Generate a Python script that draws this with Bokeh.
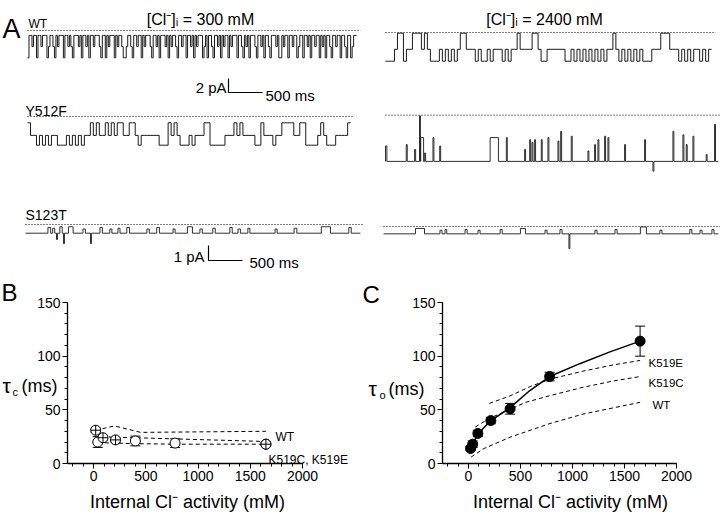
from bokeh.plotting import figure
from bokeh.models import (Range1d, Label, Whisker, TeeHead, ColumnDataSource,
                          SingleIntervalTicker, LinearAxis)
from bokeh.embed import file_html
from bokeh.resources import INLINE

FONT = "Liberation Sans"

# ------------------------------------------------------------------ data
# Panel A: single-channel traces (time in ms, current in pA)
BIN_MS = 44
WT300_BIN_MS = 22
wt300_states = "".join([
    "20010020", "01000210", "01201000", "20010120", "00102001", "02001000", "12002010",
    "00201001", "22100120", "01002010", "00120010", "20001020", "10012001", "00200102",
    "01000210", "20012001", "02010020", "10002001", "20102000", "12001020", "01200010",
    "22010020", "01002100", "20010200", "10020102", "00120010", "02001200", "2100",
])
wt300_levels = [-0.7, -2.3, -3.9]

wt2400_states = "".join([
    "222", "1", "00", "2", "11", "000", "1", "01", "222", "121", "2121", "00", "11",
    "121", "2212", "111", "2121", "101", "111", "00", "1221", "111112",
    "2121212121212", "1101", "21212121", "222", "111", "000", "111", "21212112121",
])
wt2400_levels = [-0.1, -2.4, -4.1]

y512f300_states = "".join([
    "01", "12121211", "2221", "212121", "1010110", "101", "0011", "00", "121",
    "11111", "222", "0101", "22212", "111", "00", "22222", "111", "010", "1111",
    "22", "01", "11211", "0000", "11", "00", "2222", "101", "222", "11110",
])
y512f300_levels = [-0.9, -2.7, -4.1]

y512f2400_base = -6.6
y512f2400_dur = 4895
y512f2400_start = [0, 305, 428, 500, 518, 576, 698, 797, 1539, 1777, 2046, 2120, 2154,
                   2193, 2291, 2389, 2536, 2576, 2732, 2977, 3075, 3124, 3222, 3271,
                   3516, 3810, 3933, 4227, 4374, 4423, 4521, 4716, 4839]
y512f2400_end = [20, 320, 443, 514, 560, 590, 712, 811, 1661, 1791, 2060, 2134, 2168,
                 2207, 2305, 2403, 2550, 2590, 2746, 2991, 3089, 3138, 3236, 3285,
                 3530, 3824, 3947, 4241, 4388, 4437, 4535, 4730, 4853]
y512f2400_level = [-4.4, -4.2, -4.9, -0.1, -3.2, -5.4, -3.2, -4.4, -3.2, -3.2, -4.9, -3.5,
                   -3.9, -3.5, -3.5, -3.2, -3.7, -2.3, -3.0, -5.1, -4.2, -3.5, -3.0, -3.2,
                   -4.2, -3.5, -8.0, -2.3, -2.8, -4.2, -3.0, -5.6, -1.3]

s123t300_base = -0.58
s123t300_dur = 4925
s123t300_start = [330, 400, 456, 505, 559, 632, 845, 956, 1095, 1240, 1360, 1490, 1785,
                  1930, 2170, 2381, 2565, 2755, 3005, 3125, 3270, 3670, 3950, 4350, 4755]
s123t300_end = [370, 430, 470, 540, 573, 700, 880, 970, 1130, 1270, 1390, 1530, 1820,
                1970, 2200, 2455, 2600, 2790, 3040, 3160, 3300, 3700, 3990, 4485, 4790]
s123t300_level = [-0.2, -0.25, -1.0, -0.15, -1.27, -0.15, -0.3, -1.27, -0.2, -0.3, -0.25,
                  -0.2, -0.3, -0.2, -0.3, -0.15, -0.3, -0.25, -0.2, -0.3, -0.25, -0.3,
                  -0.25, -0.15, -0.2]

s123t2400_base = -0.49
s123t2400_dur = 4925
s123t2400_start = [470, 830, 905, 1200, 1390, 1715, 2014, 2375, 2595, 2727, 3110, 3405,
                   3778, 4065, 4505, 4655, 4830]
s123t2400_end = [603, 860, 930, 1230, 1420, 1745, 2087, 2405, 2625, 2741, 3140, 3435,
                 3866, 4095, 4535, 4685, 4860]
s123t2400_level = [-0.13, -0.25, -0.2, -0.2, -0.25, -0.2, -0.13, -0.25, -0.2, -1.47, -0.25,
                   -0.2, -0.03, -0.25, -0.2, -0.25, -0.2]

scale_big = (500, 2)     # ms, pA
scale_small = (500, 1)   # ms, pA

# Panel B: tau_c vs internal Cl- activity (mM, ms)
b_e_x = [20, 90, 210, 1650]
b_e_y = [31, 24, 22, 18]
b_e_err = [2, 2, 2, 2]
b_c_x = [40, 400, 780, 1650]
b_c_y = [20, 21, 19, 18]
b_c_err = [5, 4.5, 4, 1.5]
b_wt_x = [20, 200, 450, 1650]
b_wt_y = [31, 35, 29, 30]
b_fit1_x = [80, 210, 1650]
b_fit1_y = [25, 24.5, 20.5]
b_fit2_x = [40, 200, 400, 780, 1650]
b_fit2_y = [19.5, 19, 18.5, 18, 18]

# Panel C: tau_o vs internal Cl- activity (mM, ms)
c_x = [20, 40, 90, 215, 400, 780, 1650]
c_y = [14, 18, 28, 40, 51, 81, 114]
c_err = [2, 3, 3, 3, 5, 4, 14]
c_fit_x = [15, 40, 90, 215, 400, 590, 780, 1070, 1360, 1650]
c_fit_y = [12, 18, 27.5, 40, 52, 68, 81, 93, 104, 114]
c_e_x = [200, 400, 600, 800, 1100, 1400, 1650]
c_e_y = [56, 63, 72, 79, 86, 92, 96]
c_c_x = [65, 200, 365, 550, 775, 1100, 1400, 1650]
c_c_y = [34, 42, 49, 57, 63, 71, 77, 81]
c_wt_x = [25, 150, 400, 775, 1100, 1400, 1650]
c_wt_y = [6, 14, 24.5, 37, 46, 52, 57]


# ------------------------------------------------------------------ canvas (picture pixel coords)
X0, X1, Y0, Y1 = 0, 720, 0, 512
p = figure(width=X1 - X0, height=Y1 - Y0, x_range=Range1d(X0, X1), y_range=Range1d(Y1, Y0),
           x_axis_type=None, y_axis_type=None, min_border=0, outline_line_color=None,
           toolbar_location=None, output_backend="svg")


def label(text, x, y, size, align="left"):
    p.add_layout(Label(x=x, y=y, text=text, text_font=FONT, text_font_size=size,
                       text_align=align, text_baseline="alphabetic", text_color="black"))


def step_xy(states, levels, bin_ms):
    ys = [levels[int(ch)] for ch in states]
    xs = [k * bin_ms for k in range(len(ys) + 1)]
    return xs, ys + [ys[-1]]


def event_xy(base, starts, ends, lvls, dur):
    xs, ys = [0], [base]
    for s, e, l in zip(starts, ends, lvls):
        xs += [s, s, e, e]
        ys += [base, l, l, base]
    xs.append(dur)
    ys.append(base)
    return xs, ys


# ------------------------------------------------------------------ panel A
MS_PER_PX = 500 / 34.0
trace_layout = {  # name: (x of t=0, y of 0 pA, px per pA)
    "wt300": (27, 30, 7.0), "y512f300": (27, 116, 7.0), "s123t300": (25, 224, 15.0),
    "wt2400": (385, 32, 7.0), "y512f2400": (385, 114.7, 7.0), "s123t2400": (383, 226, 15.0),
}
for nm, (xo, yo, k) in trace_layout.items():
    p.extra_x_ranges[nm] = Range1d((X0 - xo) * MS_PER_PX, (X1 - xo) * MS_PER_PX)
    p.extra_y_ranges[nm] = Range1d((yo - Y1) / k, (yo - Y0) / k)

step_traces = {
    "wt300": step_xy(wt300_states, wt300_levels, WT300_BIN_MS),
    "y512f300": step_xy(y512f300_states, y512f300_levels, BIN_MS),
    "wt2400": step_xy(wt2400_states, wt2400_levels, BIN_MS),
}
event_traces = {
    "y512f2400": event_xy(y512f2400_base, y512f2400_start, y512f2400_end, y512f2400_level, y512f2400_dur),
    "s123t300": event_xy(s123t300_base, s123t300_start, s123t300_end, s123t300_level, s123t300_dur),
    "s123t2400": event_xy(s123t2400_base, s123t2400_start, s123t2400_end, s123t2400_level, s123t2400_dur),
}
for nm, (xs, ys) in {**step_traces, **event_traces}.items():
    p.line([0, xs[-1] + 60], [0, 0], line_color="black", line_width=1, line_dash="1 2",
           x_range_name=nm, y_range_name=nm)
for nm, (xs, ys) in step_traces.items():
    p.step(xs, ys, mode="after", line_color="#1a1a1a", line_width=1,
           x_range_name=nm, y_range_name=nm)
for nm, (xs, ys) in event_traces.items():
    p.line(xs, ys, line_color="#1a1a1a", line_width=0.9, x_range_name=nm, y_range_name=nm)

# scale bars
t_a, i_a = (228 - 27) * MS_PER_PX, (30 - 92) / 7.0
p.line([t_a, t_a, t_a + scale_big[0]], [i_a + scale_big[1], i_a, i_a],
       line_color="black", line_width=1.2, x_range_name="wt300", y_range_name="wt300")
t_b, i_b = (208 - 25) * MS_PER_PX, (224 - 260) / 15.0
p.line([t_b, t_b, t_b + scale_small[0]], [i_b + scale_small[1], i_b, i_b],
       line_color="black", line_width=1.2, x_range_name="s123t300", y_range_name="s123t300")

label("A", 2, 28, "27px")
label("WT", 28, 23, "12px")
label("[Cl\u207b]\u1d62 = 300 mM", 200, 19, "16px", align="center")
label("[Cl\u207b]\u1d62 = 2400 mM", 544, 19, "16px", align="center")
label("2 pA", 226, 87, "15px", align="right")
label("500 ms", 265, 95, "15px")
label("Y512F", 25, 110, "14px")
label("S123T", 25, 214, "14px")
label("1 pA", 204, 256, "15px", align="right")
label("500 ms", 249, 262, "15px")

# ------------------------------------------------------------------ panels B, C
PX_PER_MS_Y = 1.0733
panels = {"B": (93.1, 0.10444), "C": (468.0, 0.104)}  # x pixel of 0 mM, px per mM
for nm, (xz, kx) in panels.items():
    p.extra_x_ranges[nm] = Range1d((X0 - xz) / kx, (X1 - xz) / kx)
    p.extra_y_ranges[nm] = Range1d((463 - Y1) / PX_PER_MS_Y, (463 - Y0) / PX_PER_MS_Y)
    for side, loc, bnds, tick in (("left", -250, (0, 150), SingleIntervalTicker(interval=50, num_minor_ticks=5)),
                                  ("below", 0, (-250, 2000), SingleIntervalTicker(interval=500, num_minor_ticks=5))):
        ax = LinearAxis(x_range_name=nm, y_range_name=nm, fixed_location=loc, bounds=bnds, ticker=tick)
        ax.axis_line_width = 1.3
        ax.axis_line_color = "black"
        ax.major_tick_line_color = "black"
        ax.minor_tick_line_color = "black"
        ax.major_tick_in = 0
        ax.major_tick_out = 5
        ax.minor_tick_in = 0
        ax.minor_tick_out = 3
        ax.major_label_text_font = FONT
        ax.major_label_text_font_size = "14px"
        ax.major_label_text_color = "black"
        ax.major_label_standoff = 2
        p.add_layout(ax, side)


def whiskers(nm, xs, ys, errs):
    src = ColumnDataSource(dict(x=xs, upper=[y + e for y, e in zip(ys, errs)],
                                lower=[y - e for y, e in zip(ys, errs)]))
    p.add_layout(Whisker(source=src, base="x", upper="upper", lower="lower",
                         line_color="black", line_width=1, x_range_name=nm, y_range_name=nm,
                         upper_head=TeeHead(size=10, line_width=1, line_color="black"),
                         lower_head=TeeHead(size=10, line_width=1, line_color="black")))


dash = dict(line_color="black", line_width=1, line_dash="4 3")
rB = dict(x_range_name="B", y_range_name="B")
rC = dict(x_range_name="C", y_range_name="C")

p.line(b_wt_x, b_wt_y, **dash, **rB)
p.line(b_fit1_x, b_fit1_y, **dash, **rB)
p.line(b_fit2_x, b_fit2_y, **dash, **rB)
whiskers("B", b_c_x, b_c_y, b_c_err)
whiskers("B", b_e_x, b_e_y, b_e_err)
p.scatter(b_c_x, b_c_y, marker="circle", size=10, fill_color="white", line_color="black", line_width=1, **rB)
p.scatter(b_e_x, b_e_y, marker="circle_cross", size=10, fill_color="white", line_color="black", line_width=1, **rB)

p.line(c_e_x, c_e_y, **dash, **rC)
p.line(c_c_x, c_c_y, **dash, **rC)
p.line(c_wt_x, c_wt_y, **dash, **rC)
p.line(c_fit_x, c_fit_y, line_color="black", line_width=1.5, **rC)
whiskers("C", c_x, c_y, c_err)
p.scatter(c_x, c_y, marker="circle", size=10, fill_color="black", line_color="black", **rC)

label("B", 1, 292, "24px")
label("\u03c4", 2, 385, "21px")
label("c", 12, 391, "11px")
label("(ms)", 21, 385, "18px")
label("Internal Cl\u207b activity (mM)", 187, 501, "18px", align="center")
label("WT", 275, 436, "12px")
label("K519C, K519E", 268, 459, "12px")

label("C", 362, 294, "24px")
label("\u03c4", 368, 388, "21px")
label("o", 379, 394, "11px")
label("(ms)", 388, 388, "18px")
label("Internal Cl\u207b activity (mM)", 570, 501, "18px", align="center")
label("K519E", 648, 362, "11.5px")
label("K519C", 648, 382, "11.5px")
label("WT", 652, 404, "11.5px")

open("out.html", "w").write(file_html(p, INLINE))
